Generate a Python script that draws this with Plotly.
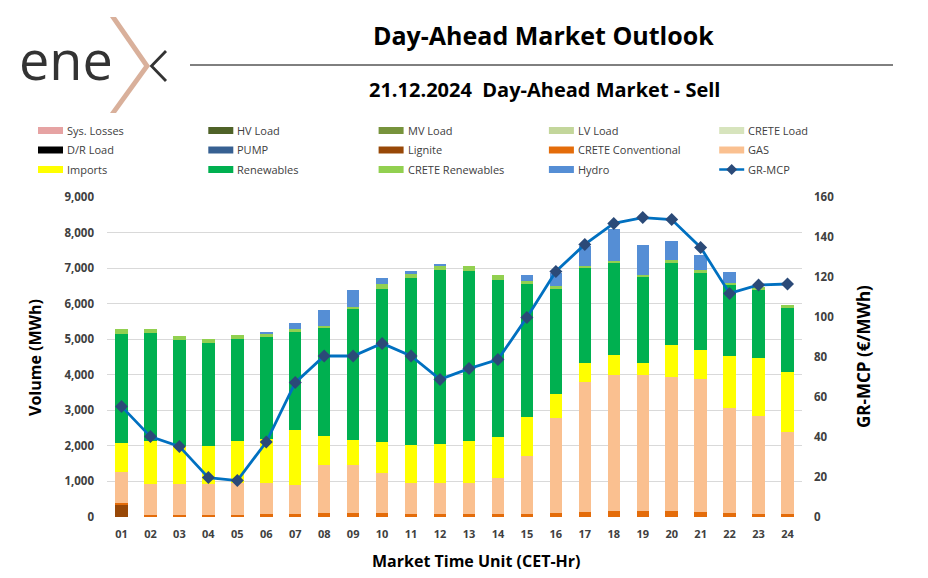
import plotly.graph_objects as go

hours = ["01", "02", "03", "04", "05", "06", "07", "08", "09", "10", "11", "12",
         "13", "14", "15", "16", "17", "18", "19", "20", "21", "22", "23", "24"]

sys_losses = [0, 0, 0, 0, 0, 0, 0, 0, 0, 0, 0, 0, 0, 0, 0, 0, 0, 0, 0, 0, 0, 0, 0, 0]
hv_load = [0, 0, 0, 0, 0, 0, 0, 0, 0, 0, 0, 0, 0, 0, 0, 0, 0, 0, 0, 0, 0, 0, 0, 0]
mv_load = [0, 0, 0, 0, 0, 0, 0, 0, 0, 0, 0, 0, 0, 0, 0, 0, 0, 0, 0, 0, 0, 0, 0, 0]
lv_load = [0, 0, 0, 0, 0, 0, 0, 0, 0, 0, 0, 0, 0, 0, 0, 0, 0, 0, 0, 0, 0, 0, 0, 0]
crete_load = [0, 0, 0, 0, 0, 0, 0, 0, 0, 0, 0, 0, 0, 0, 0, 0, 0, 0, 0, 0, 0, 0, 0, 0]
dr_load = [0, 0, 0, 0, 0, 0, 0, 0, 0, 0, 0, 0, 0, 0, 0, 0, 0, 0, 0, 0, 0, 0, 0, 0]
pump = [0, 0, 0, 0, 0, 0, 0, 0, 0, 0, 0, 0, 0, 0, 0, 0, 0, 0, 0, 0, 0, 0, 0, 0]
lignite = [330, 0, 0, 0, 0, 0, 0, 0, 0, 0, 0, 0, 0, 0, 0, 0, 0, 0, 0, 0, 0, 0, 0, 0]
crete_conv = [60, 55, 55, 55, 55, 75, 95, 120, 115, 115, 75, 75,
              75, 95, 95, 115, 145, 175, 175, 175, 145, 115, 75, 75]
gas = [870, 870, 870, 870, 895, 870, 805, 1335, 1340, 1135, 870, 870,
       870, 1005, 1625, 2680, 3645, 3825, 3825, 3750, 3730, 2940, 2755, 2305]
imports = [830, 1220, 1075, 1060, 1195, 1255, 1545, 830, 700, 865, 1080, 1105,
           1200, 1160, 1095, 655, 545, 545, 330, 920, 830, 1480, 1655, 1710]
renewables = [3060, 3020, 2990, 2915, 2855, 2870, 2745, 3020, 3685, 4310, 4690, 4885,
              4760, 4400, 3725, 2975, 2655, 2585, 2435, 2315, 2180, 2015, 1910, 1800]
crete_ren = [125, 115, 110, 115, 120, 85, 90, 75, 75, 115, 125, 130,
             160, 150, 110, 85, 75, 60, 45, 55, 50, 45, 60, 75]
hydro = [0, 0, 0, 0, 0, 55, 185, 445, 460, 185, 65, 55,
         0, 0, 160, 340, 545, 920, 830, 535, 440, 290, 0, 0]
gr_mcp = [55.3, 40.2, 35.3, 19.7, 18.2, 37.5, 67.2, 80.5, 80.5, 86.8, 80.5, 68.8,
          74.2, 78.7, 99.8, 122.8, 136.3, 146.8, 149.7, 148.7, 134.8, 111.8, 116.0, 116.5]

series = [
    ("Sys. Losses", sys_losses, "#E6A3A3"),
    ("HV Load", hv_load, "#4F6228"),
    ("MV Load", mv_load, "#77933C"),
    ("LV Load", lv_load, "#C3D69B"),
    ("CRETE Load", crete_load, "#D7E4BD"),
    ("D/R Load", dr_load, "#000000"),
    ("PUMP", pump, "#376092"),
    ("Lignite", lignite, "#984807"),
    ("CRETE Conventional", crete_conv, "#E46C0A"),
    ("GAS", gas, "#FAC090"),
    ("Imports", imports, "#FFFF00"),
    ("Renewables", renewables, "#00B050"),
    ("CRETE Renewables", crete_ren, "#92D050"),
    ("Hydro", hydro, "#558ED5"),
]
LINE_COLOR = "#0070C0"
MARKER_COLOR = "#2B4A78"

legend_cols = [
    ["Sys. Losses", "D/R Load", "Imports"],
    ["HV Load", "PUMP", "Renewables"],
    ["MV Load", "Lignite", "CRETE Renewables"],
    ["LV Load", "CRETE Conventional", "Hydro"],
    ["CRETE Load", "GAS", "GR-MCP"],
]

# the page body adds an 8px margin; work in window pixels and shift
OFF = 8
W, H = 928 - OFF, 578 - OFF
PL, PR, PT, PB = 107, 802, 197, 517          # plot area in window pixels
L, R, T, B = PL - OFF, PR - OFF, PT - OFF, PB - OFF
FONT = "Open Sans"
TXT = "#404040"


def fx(p):
    return (p - PL) / (PR - PL)


def fy(p):
    return (PB - p) / (PB - PT)


fig = go.Figure()
for name, vals, col in series:
    fig.add_trace(go.Bar(x=hours, y=vals, name=name, marker_color=col,
                         marker_line_width=0, showlegend=False))
fig.add_trace(go.Scatter(x=hours, y=gr_mcp, name="GR-MCP", yaxis="y2", mode="lines+markers",
                         line=dict(color=LINE_COLOR, width=2.8),
                         marker=dict(symbol="diamond", size=10, color=MARKER_COLOR),
                         showlegend=False))

shapes = []
annotations = []

# custom legend
colors = {n: c for n, _, c in series}
row_y = [130.5, 150, 169.5]
for ci, col in enumerate(legend_cols):
    x0 = 38 + 170.3 * ci
    for ri, name in enumerate(col):
        yc = row_y[ri]
        if name == "GR-MCP":
            shapes.append(dict(type="line", xref="paper", yref="paper",
                               x0=fx(x0), x1=fx(x0 + 25), y0=fy(yc), y1=fy(yc),
                               line=dict(color=LINE_COLOR, width=2.5)))
            xm = x0 + 12.5
            d = 5.5
            path = "M {} {} L {} {} L {} {} L {} {} Z".format(
                fx(xm - d), fy(yc), fx(xm), fy(yc - d), fx(xm + d), fy(yc), fx(xm), fy(yc + d))
            shapes.append(dict(type="path", xref="paper", yref="paper", path=path,
                               fillcolor=MARKER_COLOR, line=dict(width=0)))
        else:
            shapes.append(dict(type="rect", xref="paper", yref="paper",
                               x0=fx(x0), x1=fx(x0 + 25), y0=fy(yc - 3.5), y1=fy(yc + 3.5),
                               fillcolor=colors[name], line=dict(width=0)))
        annotations.append(dict(text=name, xref="paper", yref="paper", x=fx(x0 + 27), y=fy(yc),
                                xanchor="left", yanchor="middle", showarrow=False,
                                font=dict(family=FONT, size=11, color=TXT)))

# titles
annotations.append(dict(text="<b>Day-Ahead Market Outlook</b>", xref="paper", yref="paper",
                        x=fx(543), y=fy(35), xanchor="center", yanchor="middle", showarrow=False,
                        font=dict(family=FONT, size=25, color="#000000")))
annotations.append(dict(text="<b>21.12.2024  Day-Ahead Market - Sell</b>", xref="paper", yref="paper",
                        x=fx(544), y=fy(89), xanchor="center", yanchor="middle", showarrow=False,
                        font=dict(family=FONT, size=20, color="#000000")))
shapes.append(dict(type="line", xref="paper", yref="paper", x0=fx(190), x1=fx(893),
                   y0=fy(65), y1=fy(65), line=dict(color="#000000", width=1)))

# axis titles
annotations.append(dict(text="<b>Volume (MWh)</b>", xref="paper", yref="paper", x=fx(35), y=fy(358),
                        textangle=-90, xanchor="center", yanchor="middle", showarrow=False,
                        font=dict(family=FONT, size=16, color="#000000")))
annotations.append(dict(text="<b>GR-MCP (€/MWh)</b>", xref="paper", yref="paper", x=fx(863), y=fy(357),
                        textangle=-90, xanchor="center", yanchor="middle", showarrow=False,
                        font=dict(family=FONT, size=17, color="#000000")))
annotations.append(dict(text="<b>Market Time Unit (CET-Hr)</b>", xref="paper", yref="paper",
                        x=fx(476), y=fy(561), xanchor="center", yanchor="middle", showarrow=False,
                        font=dict(family=FONT, size=16, color="#000000")))

# logo
annotations.append(dict(text="ene", xref="paper", yref="paper", x=fx(66), y=fy(59),
                        xanchor="center", yanchor="middle", showarrow=False,
                        font=dict(family=FONT, size=54, color="#333333", weight=400)))
chev = [(110, 17), (116, 17), (150, 66), (116, 113), (110, 113), (144, 66)]
path = "M " + " L ".join("{} {}".format(fx(a), fy(b)) for a, b in chev) + " Z"
shapes.append(dict(type="path", xref="paper", yref="paper", path=path,
                   fillcolor="#D9B09B", line=dict(width=0)))
xs = [(166, 51), (151.5, 66), (166, 81)]
path2 = "M " + " L ".join("{} {}".format(fx(a), fy(b)) for a, b in xs)
shapes.append(dict(type="path", xref="paper", yref="paper", path=path2,
                   line=dict(color="#333333", width=2.8)))

fig.update_layout(
    width=W, height=H,
    margin=dict(l=L, r=W - R, t=T, b=H - B, pad=0),
    paper_bgcolor="white", plot_bgcolor="white",
    barmode="stack", bargap=0.57,
    showlegend=False,
    font=dict(family=FONT, color=TXT),
    xaxis=dict(type="category", range=[-0.5, 23.5], ticklabelstandoff=9,
               tickfont=dict(family=FONT, size=11, color=TXT, weight="bold"),
               showgrid=False, ticks="", showline=False, zeroline=False),
    yaxis=dict(range=[0, 9000], dtick=1000, tickformat=",", showgrid=True, gridcolor="#D9D9D9",
               gridwidth=1, zeroline=False, showline=False, ticks="", ticklabelstandoff=12,
               tickfont=dict(family=FONT, size=11.5, color=TXT, weight="bold")),
    yaxis2=dict(range=[0, 160], dtick=20, overlaying="y", side="right", showgrid=False,
                zeroline=False, showline=False, ticks="", ticklabelstandoff=11,
                tickfont=dict(family=FONT, size=11.5, color=TXT, weight="bold")),
    shapes=shapes, annotations=annotations,
)

fig.write_html("out.html")
